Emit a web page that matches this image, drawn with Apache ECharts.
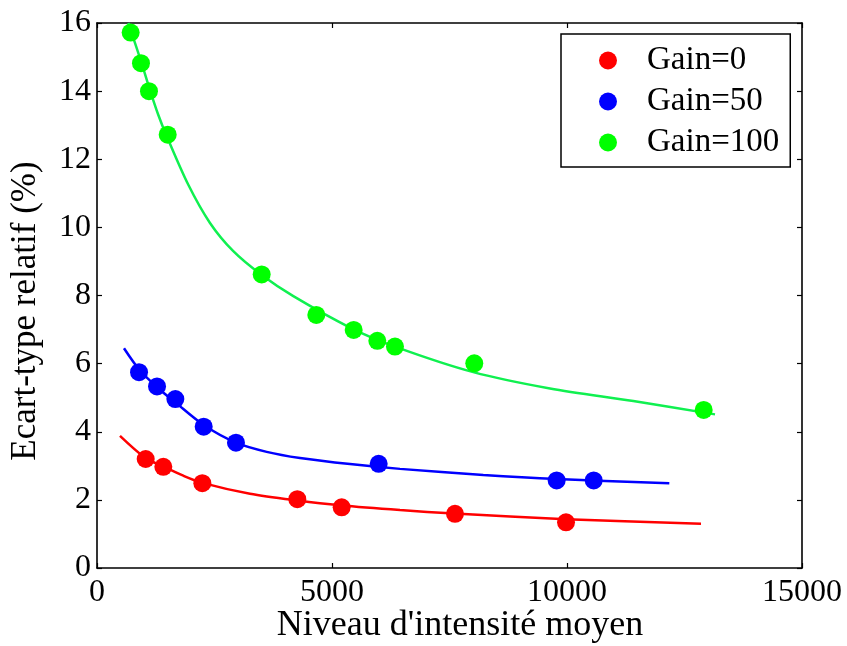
<!DOCTYPE html>
<html>
<head>
<meta charset="utf-8">
<script src="https://cdn.jsdelivr.net/npm/echarts@6/dist/echarts.min.js"></script>
<style>html,body{margin:0;padding:0;background:#fff;}#c{width:847px;height:646px;}</style>
</head>
<body>
<div id="c"></div>
<script>
// Measured points
const redX = [1036, 1411, 2241, 4262, 5206, 7617, 9979];
const redY = [3.20, 2.97, 2.49, 2.02, 1.78, 1.59, 1.34];
const blueX = [894, 1277, 1667, 2270, 2957, 5993, 9780, 10568];
const blueY = [5.75, 5.33, 4.96, 4.15, 3.68, 3.06, 2.57, 2.57];
const greenX = [716, 936, 1106, 1504, 3504, 4666, 5461, 5964, 6340, 8027, 12908];
const greenY = [15.72, 14.82, 14.0, 12.72, 8.62, 7.43, 6.99, 6.67, 6.50, 6.01, 4.64];

// Fitted curves
const redFitX = [489, 1021, 1411, 1836, 2241, 3255, 4270, 5170, 6447, 7602, 9979, 12851];
const redFitY = [3.88, 3.24, 2.98, 2.71, 2.50, 2.18, 1.98, 1.84, 1.70, 1.60, 1.43, 1.30];
const blueFitX = [574, 901, 1284, 1660, 2277, 2957, 3610, 4319, 5383, 6447, 8219, 9780, 12177];
const blueFitY = [6.45, 5.82, 5.30, 4.87, 4.19, 3.68, 3.41, 3.23, 3.05, 2.91, 2.73, 2.61, 2.49];
const greenFitX = [666, 936, 1106, 1305, 1483, 1943, 2404, 2900, 3504, 4177, 5383, 6340, 8007, 9638, 11411, 13149];
const greenFitY = [16.0, 14.88, 14.12, 13.3, 12.68, 11.25, 10.13, 9.3, 8.6, 7.98, 7.06, 6.5, 5.75, 5.27, 4.90, 4.51];

const seriesNames = ['Gain=0', 'Gain=50', 'Gain=100'];
const xTitle = "Niveau d'intensité moyen";
const yTitle = 'Ecart-type relatif (%)';

const zip = (a, b) => a.map((v, i) => [v, b[i]]);
const FONT = 'Liberation Serif';

const chart = echarts.init(document.getElementById('c'), null, {renderer: 'canvas'});
const axisCommon = {
  axisLine: {show: true, onZero: false, lineStyle: {color: '#000', width: 1.6}},
  axisTick: {show: true, inside: true, length: 5, lineStyle: {color: '#000', width: 1.2}},
  splitLine: {show: false}
};
const plain = v => String(v);
chart.setOption({
  backgroundColor: '#fff',
  animation: false,
  grid: {left: 97, right: 45, top: 23, bottom: 78, containLabel: false},
  xAxis: [
    Object.assign({type: 'value', min: 0, max: 15000, interval: 5000, position: 'bottom',
      axisLabel: {fontFamily: FONT, fontSize: 32, color: '#000', margin: 9, formatter: plain}}, axisCommon),
    Object.assign({type: 'value', min: 0, max: 15000, interval: 5000, position: 'top',
      axisLabel: {show: false}}, axisCommon)
  ],
  yAxis: [
    Object.assign({type: 'value', min: 0, max: 16, interval: 2, position: 'left',
      axisLabel: {fontFamily: FONT, fontSize: 32, color: '#000', margin: 6, formatter: plain}}, axisCommon),
    Object.assign({type: 'value', min: 0, max: 16, interval: 2, position: 'right',
      axisLabel: {show: false}}, axisCommon)
  ],
  legend: {
    data: seriesNames,
    orient: 'vertical',
    left: 561, top: 34,
    padding: [10, 11, 8, 38],
    itemWidth: 68, itemHeight: 18, itemGap: 8,
    borderColor: '#000', borderWidth: 1.5,
    backgroundColor: '#fff',
    icon: 'circle',
    textStyle: {fontFamily: FONT, fontSize: 33, color: '#000'}
  },
  graphic: [
    {type: 'text', x: 460, y: 626, style: {text: xTitle, font: '36px "Liberation Serif"', fill: '#000', textAlign: 'center', textVerticalAlign: 'middle'}},
    {type: 'text', x: 26, y: 311, rotation: Math.PI / 2, style: {text: yTitle, font: '35px "Liberation Serif"', fill: '#000', textAlign: 'center', textVerticalAlign: 'middle'}}
  ],
  series: [
    {name: 'fit0', type: 'line', data: zip(redFitX, redFitY), showSymbol: false, smooth: 0.3, lineStyle: {color: '#ff0000', width: 2.5}, z: 2},
    {name: 'fit50', type: 'line', data: zip(blueFitX, blueFitY), showSymbol: false, smooth: 0.3, lineStyle: {color: '#0000ff', width: 2.5}, z: 2},
    {name: 'fit100', type: 'line', data: zip(greenFitX, greenFitY), showSymbol: false, smooth: 0.3, lineStyle: {color: '#10f050', width: 2.5}, z: 2},
    {name: seriesNames[0], type: 'scatter', data: zip(redX, redY), symbol: 'circle', symbolSize: 18, itemStyle: {color: '#ff0000', opacity: 1}, z: 3},
    {name: seriesNames[1], type: 'scatter', data: zip(blueX, blueY), symbol: 'circle', symbolSize: 18, itemStyle: {color: '#0000ff', opacity: 1}, z: 3},
    {name: seriesNames[2], type: 'scatter', data: zip(greenX, greenY), symbol: 'circle', symbolSize: 18, itemStyle: {color: '#00ff00', opacity: 1}, z: 3}
  ]
});
</script>
</body>
</html>
